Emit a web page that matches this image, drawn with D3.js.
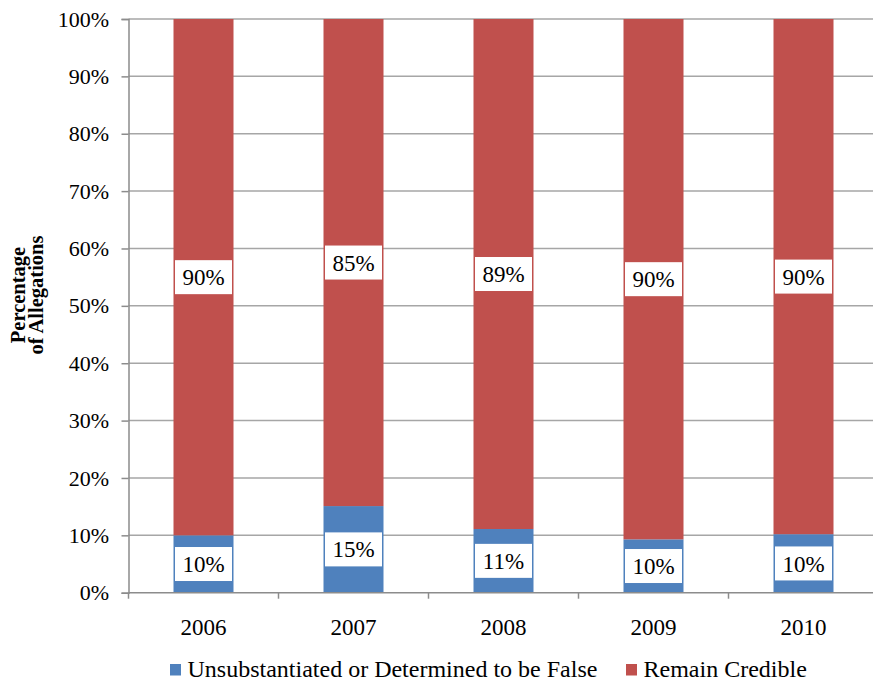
<!DOCTYPE html>
<html>
<head>
<meta charset="utf-8">
<script src="https://cdn.jsdelivr.net/npm/d3@7"></script>
<style>
    body { margin: 0; background: #fff; }
    svg { display: block; font-family: "Liberation Serif", "Times New Roman", serif; }
</style>
</head>
<body>
<div id="chart-div"></div>
<script>
// DATA ///////////////////////////////////////////////////////////////////////
const years = ["2006", "2007", "2008", "2009", "2010"];
const unsubstantiated = [10.0, 15.1, 11.1, 9.3, 10.2];
const credible = [90.0, 84.9, 88.9, 90.7, 89.8];
const unsubLabels = ["10%", "15%", "11%", "10%", "10%"];
const credLabels = ["90%", "85%", "89%", "90%", "90%"];
const yTicks = [0, 10, 20, 30, 40, 50, 60, 70, 80, 90, 100];
const seriesNames = ["Unsubstantiated or Determined to be False", "Remain Credible"];
const seriesColors = ["#4F81BD", "#C0504D"];

(function() {
    const width = 873, height = 684;
    const plot = {left: 128.5, right: 878.5, top: 19, bottom: 592.7};
    const font = "Liberation Serif";

    const svg = d3.select("#chart-div")
        .append("svg")
        .attr("width", width)
        .attr("height", height);

    const x = d3.scaleBand()
        .domain(years)
        .range([plot.left, plot.right])
        .paddingInner(0.6)
        .paddingOuter(0.3);

    const y = d3.scaleLinear()
        .domain([0, 100])
        .range([plot.bottom, plot.top]);

    // gridlines
    svg.append("g")
        .selectAll("line")
        .data(yTicks.filter(d => d > 0))
        .enter().append("line")
        .attr("x1", plot.left).attr("x2", plot.right)
        .attr("y1", d => y(d)).attr("y2", d => y(d))
        .attr("stroke", "#a6a6a6")
        .attr("stroke-width", 1.5);

    // stacked bars
    const rows = years.map((yr, i) => ({
        year: yr,
        segs: [
            {y0: 0, y1: unsubstantiated[i], color: seriesColors[0], label: unsubLabels[i]},
            {y0: unsubstantiated[i], y1: unsubstantiated[i] + credible[i], color: seriesColors[1], label: credLabels[i]}
        ]
    }));

    const groups = svg.append("g").selectAll("g")
        .data(rows)
        .enter().append("g");

    groups.selectAll("rect")
        .data(d => d.segs.map(s => Object.assign({year: d.year}, s)))
        .enter().append("rect")
        .attr("x", d => x(d.year))
        .attr("width", x.bandwidth())
        .attr("y", d => y(d.y1))
        .attr("height", d => y(d.y0) - y(d.y1))
        .attr("fill", d => d.color);

    // axes
    const yAxis = d3.axisLeft(y)
        .tickValues(yTicks)
        .tickFormat(d => d + "%")
        .tickSize(7)
        .tickPadding(12.5);
    const gy = svg.append("g")
        .attr("transform", `translate(${plot.left},0)`)
        .call(yAxis)
        .attr("font-family", font);
    gy.select(".domain").attr("stroke", "#8c8c8c").attr("stroke-width", 1.5);
    gy.selectAll(".tick line").attr("stroke", "#8c8c8c").attr("stroke-width", 1.5);
    gy.selectAll(".tick text")
        .attr("font-size", 22)
        .attr("fill", "#000");

    const gx = svg.append("g")
        .attr("transform", `translate(0,${plot.bottom})`);
    gx.append("line")
        .attr("x1", plot.left).attr("x2", plot.right)
        .attr("stroke", "#8c8c8c").attr("stroke-width", 1.5);
    const step = x.step();
    gx.selectAll(".xtick")
        .data(d3.range(years.length + 1))
        .enter().append("line")
        .attr("x1", i => plot.left + i * step)
        .attr("x2", i => plot.left + i * step)
        .attr("y1", 0).attr("y2", 6)
        .attr("stroke", "#8c8c8c").attr("stroke-width", 1.5);
    gx.selectAll(".xlab")
        .data(years)
        .enter().append("text")
        .attr("x", d => x(d) + x.bandwidth() / 2)
        .attr("y", 42)
        .attr("text-anchor", "middle")
        .attr("font-size", 23)
        .text(d => d);

    // data labels in white boxes
    const labels = groups.selectAll(".lbl")
        .data(d => d.segs.map(s => Object.assign({year: d.year}, s)))
        .enter().append("g")
        .attr("transform", d => `translate(${x(d.year) + x.bandwidth() / 2},${(y(d.y0) + y(d.y1)) / 2})`);
    labels.append("rect")
        .attr("x", -28.5).attr("y", -17)
        .attr("width", 57).attr("height", 34)
        .attr("fill", "#fff");
    labels.append("text")
        .attr("text-anchor", "middle")
        .attr("dy", "0.35em")
        .attr("font-size", 23)
        .text(d => d.label);

    // y axis title
    const title = svg.append("text")
        .attr("transform", "translate(25,295) rotate(-90)")
        .attr("text-anchor", "middle")
        .attr("font-weight", "bold")
        .attr("font-size", 20.5);
    title.append("tspan").attr("x", 0).attr("y", 0).text("Percentage");
    title.append("tspan").attr("x", 0).attr("y", 18).text("of Allegations");

    // legend
    const legendX = [170, 626];
    const legend = svg.append("g").selectAll("g")
        .data(seriesNames)
        .enter().append("g")
        .attr("transform", (d, i) => `translate(${legendX[i]},664)`);
    legend.append("rect")
        .attr("width", 11).attr("height", 11.5)
        .attr("fill", (d, i) => seriesColors[i]);
    legend.append("text")
        .attr("x", 17.5).attr("y", 12.9)
        .attr("font-size", 24)
        .text(d => d);
})();
</script>
</body>
</html>
